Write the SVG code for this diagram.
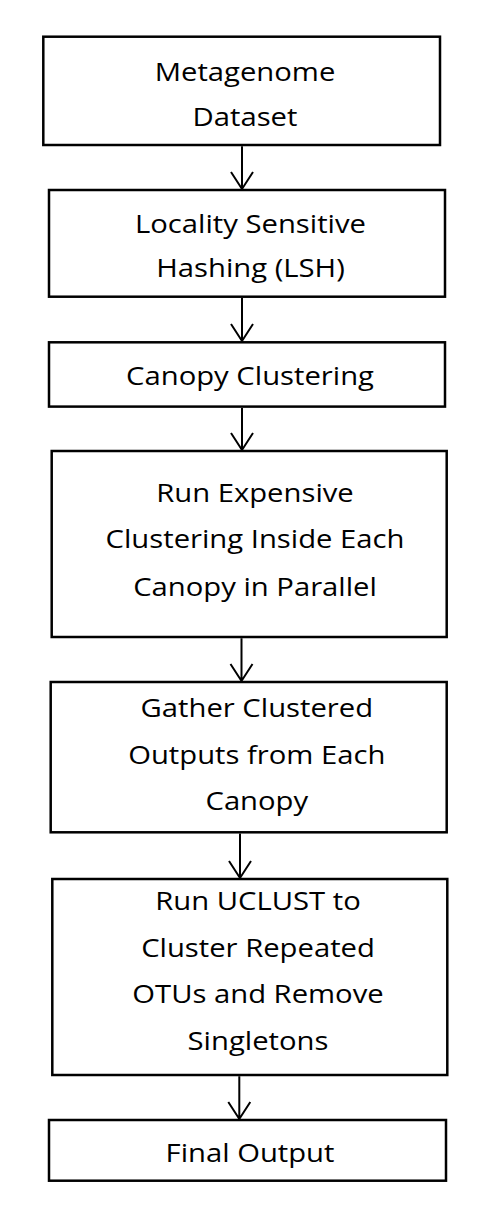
<svg xmlns="http://www.w3.org/2000/svg" width="488" height="1211" viewBox="0 0 488 1211">
<style>
.box{fill:#fff;stroke:#000;stroke-width:2.5}
.t{font-family:"Open Sans","Liberation Sans",sans-serif;font-size:25px;fill:#000;text-anchor:middle}
.c{fill:none;stroke:#000;stroke-width:2}
</style>
<rect width="488" height="1211" fill="#fff"/>
<g id="n1">
<rect class="box" x="43.3" y="36.7" width="396.7" height="108.3"/>
<g transform="translate(245,0) scale(1.17,1)"><text class="t" x="0" y="81">Metagenome</text><text class="t" x="0" y="126">Dataset</text></g>
</g>
<g id="n2">
<rect class="box" x="49" y="190" width="396" height="106.7"/>
<g transform="translate(250.5,0) scale(1.17,1)"><text class="t" x="0" y="233.3">Locality Sensitive</text><text class="t" x="0" y="276.7">Hashing (LSH)</text></g>
</g>
<g id="n3">
<rect class="box" x="49" y="342.3" width="396" height="64.3"/>
<g transform="translate(250,0) scale(1.17,1)"><text class="t" x="0" y="385">Canopy Clustering</text></g>
</g>
<g id="n4">
<rect class="box" x="51.7" y="451" width="395" height="186"/>
<g transform="translate(255,0) scale(1.17,1)"><text class="t" x="0" y="501.7">Run Expensive</text><text class="t" x="0" y="548.3">Clustering Inside Each</text><text class="t" x="0" y="595.7">Canopy in Parallel</text></g>
</g>
<g id="n5">
<rect class="box" x="50.7" y="682" width="396" height="150.3"/>
<g transform="translate(256.8,0) scale(1.17,1)"><text class="t" x="0" y="717.3">Gather Clustered</text><text class="t" x="0" y="764">Outputs from Each</text><text class="t" x="0" y="810">Canopy</text></g>
</g>
<g id="n6">
<rect class="box" x="52.3" y="879" width="395" height="196"/>
<g transform="translate(258,0) scale(1.17,1)"><text class="t" x="0" y="910">Run UCLUST to</text><text class="t" x="0" y="956.7">Cluster Repeated</text><text class="t" x="0" y="1003.3">OTUs and Remove</text><text class="t" x="0" y="1050">Singletons</text></g>
</g>
<g id="n7">
<rect class="box" x="49" y="1120" width="397" height="60.7"/>
<g transform="translate(250,0) scale(1.17,1)"><text class="t" x="0" y="1161.7">Final Output</text></g>
</g>
<g id="connectors">
<path class="c" d="M242 146.2V189 M231 172L242 189L253 172"/>
<path class="c" d="M242 298V341 M231 324L242 341L253 324"/>
<path class="c" d="M242 408V450 M231 433L242 450L253 433"/>
<path class="c" d="M241.5 638.2V681 M230.5 664L241.5 681L252.5 664"/>
<path class="c" d="M240 833.5V878 M229 861L240 878L251 861"/>
<path class="c" d="M239.3 1076.2V1119 M228.3 1102L239.3 1119L250.3 1102"/>
</g>
</svg>
